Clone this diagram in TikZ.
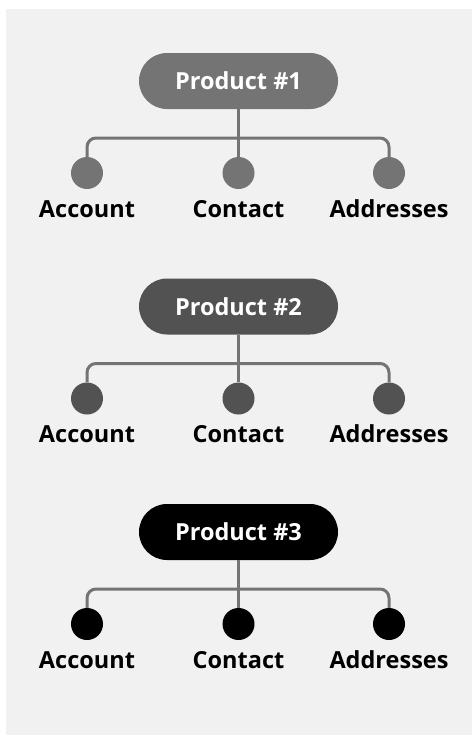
\documentclass[tikz,border=0pt]{standalone}
\usepackage{fontspec}
\setmainfont{Open Sans}
\definecolor{bgc}{HTML}{F1F1F1}
\definecolor{linec}{HTML}{747474}
\definecolor{cA}{HTML}{747474}
\definecolor{cB}{HTML}{525252}
\definecolor{cC}{HTML}{000000}
\tikzset{
  pill/.style={fill=#1, draw=none, rounded corners=28pt, minimum width=199pt, minimum height=56pt, inner sep=0pt, text=white, font=\bfseries\fontsize{23.5}{26}\selectfont},
  dot/.style={circle, fill=#1, draw=none, minimum size=32pt, inner sep=0pt},
  conn/.style={draw=linec, line width=3pt},
  lbl/.style={anchor=base, inner sep=0pt, text=black, font=\bfseries\fontsize{23.5}{26}\selectfont}
}
\begin{document}
\begin{tikzpicture}[x=1pt,y=-1pt]
\useasboundingbox (0,0) rectangle (472,736);
\fill[bgc] (6,9) rectangle (472,735);
\foreach \i/\c/\n in {0/cA/1,1/cB/2,2/cC/3}{
  \begin{scope}[yshift={-225.5pt*\i}]
    \node[pill=\c] (p\n) at (238.5,81) {Product \#\n};
    \node[dot=\c] (a\n) at (87,173) {};
    \node[dot=\c] (c\n) at (238.5,173) {};
    \node[dot=\c] (d\n) at (389,173) {};
    \coordinate (j\n) at (238.5,138);
    \draw[conn] (p\n.south) -- (c\n.north);
    \draw[conn, rounded corners=9pt] (a\n.north) |- (j\n) -| (d\n.north);
    \node[lbl] (la\n) at (87,217) {Account};
    \node[lbl] (lc\n) at (238.5,217) {Contact};
    \node[lbl] (ld\n) at (389,217) {Addresses};
  \end{scope}
}
\end{tikzpicture}
\end{document}
